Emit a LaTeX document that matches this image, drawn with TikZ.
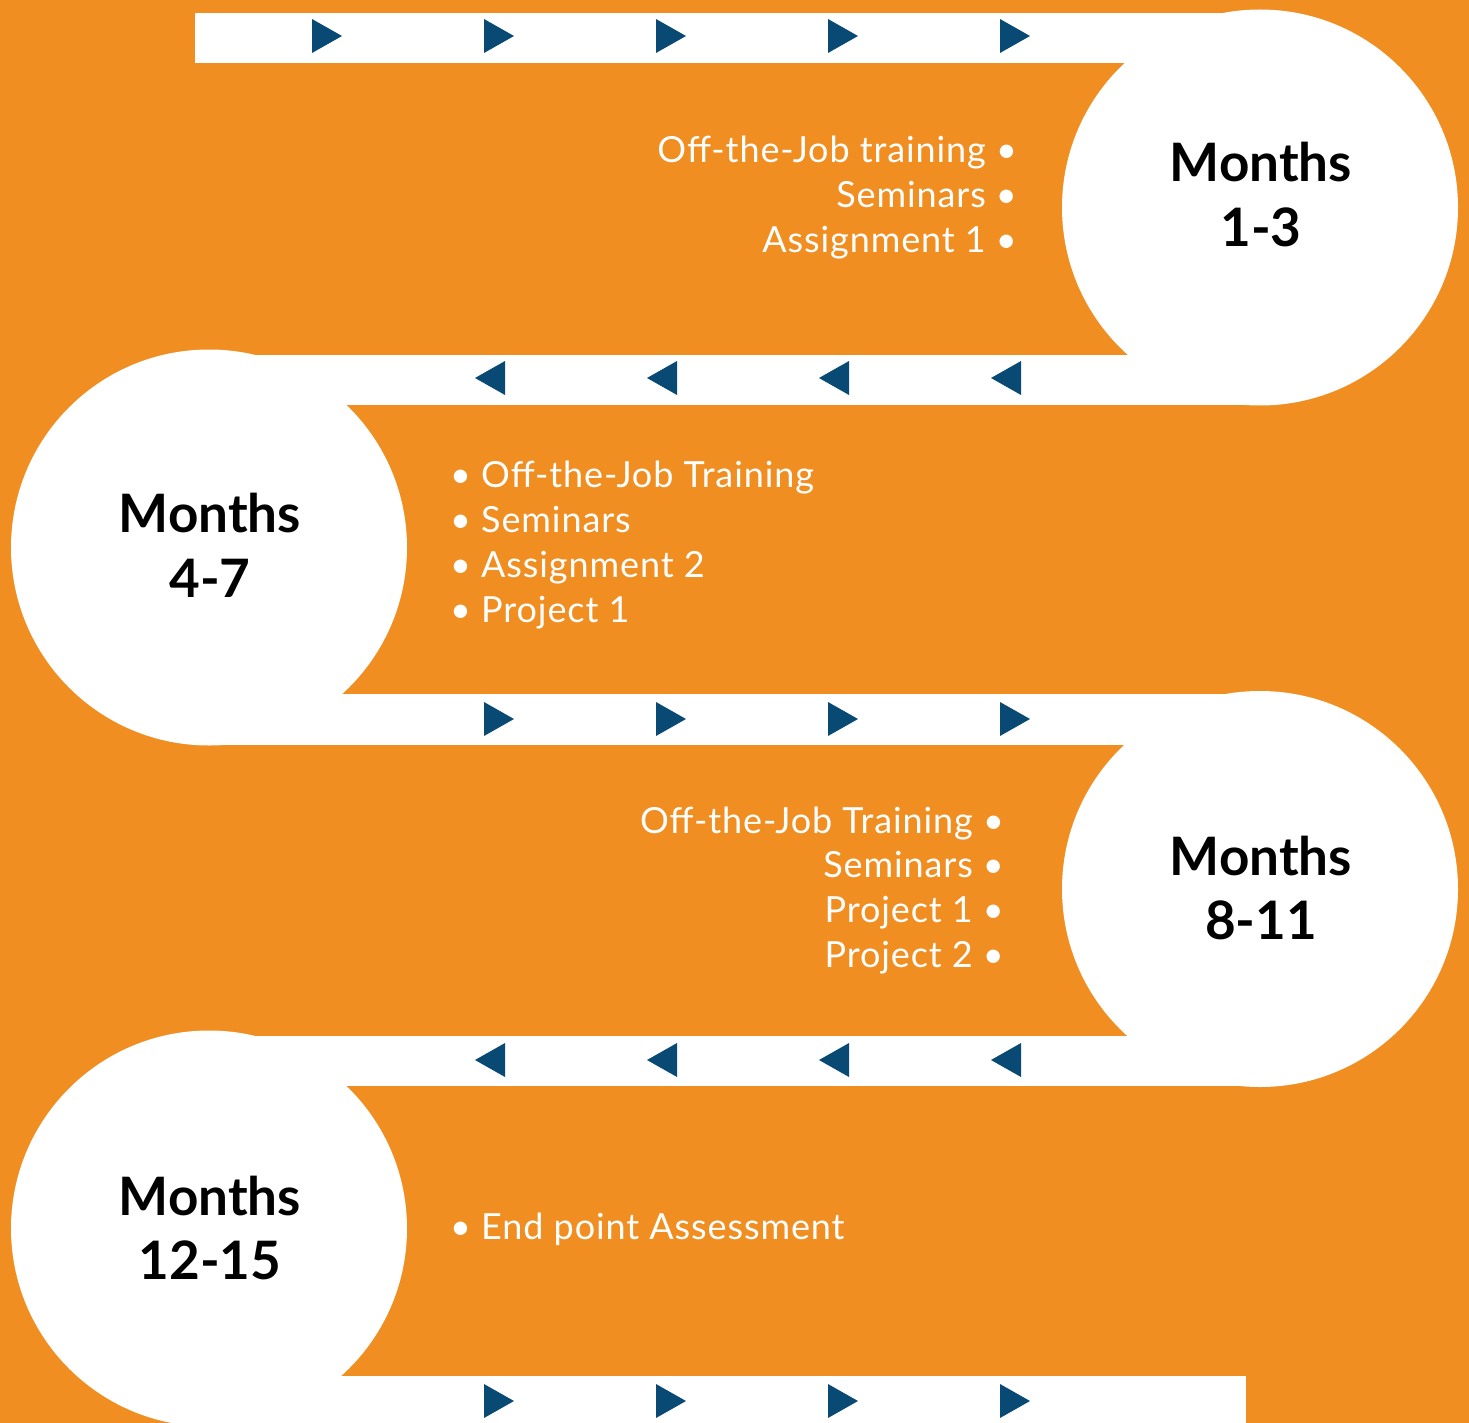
\documentclass[tikz,border=0pt]{standalone}
\usepackage{fontspec}
\setmainfont{Lato}
\newfontfamily\itemfont[LetterSpace=2.5]{Lato}
\definecolor{bgorange}{RGB}{241,142,34}
\definecolor{arrowblue}{RGB}{9,74,117}

\begin{document}
\begin{tikzpicture}[x=1pt,y=-1pt,
  band/.style={fill=white},
  stage/.style={circle, fill=white, minimum size=396pt, inner sep=0pt},
  stagetext/.style={font=\fontsize{53}{65}\selectfont\bfseries, text=black, anchor=base, inner sep=0pt},
  itemR/.style={font=\itemfont\fontsize{36}{45}\selectfont, text=white, anchor=base east, inner sep=0pt},
  itemL/.style={font=\itemfont\fontsize{36}{45}\selectfont, text=white, anchor=base west, inner sep=0pt},
  fwd/.pic={\fill[arrowblue] (0,-17) -- (30,0) -- (0,17) -- cycle;},
  back/.pic={\fill[arrowblue] (0,0) -- (30,-17) -- (30,17) -- cycle;}
]
% canvas
\fill[bgorange] (0,0) rectangle (1469,1423);
\useasboundingbox (0,0) rectangle (1469,1423);

% white tracks
\fill[band] (195,13) rectangle (1260,63);
\fill[band] (209,355) rectangle (1260,405);
\fill[band] (209,694) rectangle (1260,745);
\fill[band] (209,1036) rectangle (1260,1086);
\fill[band] (209,1376) rectangle (1246,1423);

% stage discs
\node[stage] (s1) at (1260,207.5) {};
\node[stage] (s2) at (209,547.5) {};
\node[stage] (s3) at (1260,889) {};
\node[stage] (s4) at (209,1228.5) {};

% direction markers
\foreach \x in {312,484,656,828,1000} \pic at (\x,36) {fwd};
\foreach \x in {475,647,819,991} \pic at (\x,378) {back};
\foreach \x in {484,656,828,1000} \pic at (\x,719) {fwd};
\foreach \x in {475,647,819,991} \pic at (\x,1060) {back};
\foreach \x in {484,656,828,1000} \pic at (\x,1401) {fwd};

% stage titles
\node[stagetext] (t1a) at (1261,182) {Months};
\node[stagetext] (t1b) at (1261,247) {1-3};
\node[stagetext] (t2a) at (210,532) {Months};
\node[stagetext] (t2b) at (210,597) {4-7};
\node[stagetext] (t3a) at (1261,875) {Months};
\node[stagetext] (t3b) at (1261,939) {8-11};
\node[stagetext] (t4a) at (210,1215) {Months};
\node[stagetext] (t4b) at (210,1279) {12-15};

% stage 1 items
\node[itemR] (a1) at (1017,163) {Off-the-Job training •};
\node[itemR] (a2) at (1017,208) {Seminars •};
\node[itemR] (a3) at (1017,253) {Assignment 1 •};

% stage 2 items
\node[itemL] (b1) at (450,487) {• Off-the-Job Training};
\node[itemL] (b2) at (450,532) {• Seminars};
\node[itemL] (b3) at (450,577) {• Assignment 2};
\node[itemL] (b4) at (450,622) {• Project 1};

% stage 3 items
\node[itemR] (c1) at (1004,833) {Off-the-Job Training •};
\node[itemR] (c2) at (1004,877) {Seminars •};
\node[itemR] (c3) at (1004,922) {Project 1 •};
\node[itemR] (c4) at (1004,967) {Project 2 •};

% stage 4 items
\node[itemL] (d1) at (450,1239) {• End point Assessment};
\end{tikzpicture}
\end{document}
